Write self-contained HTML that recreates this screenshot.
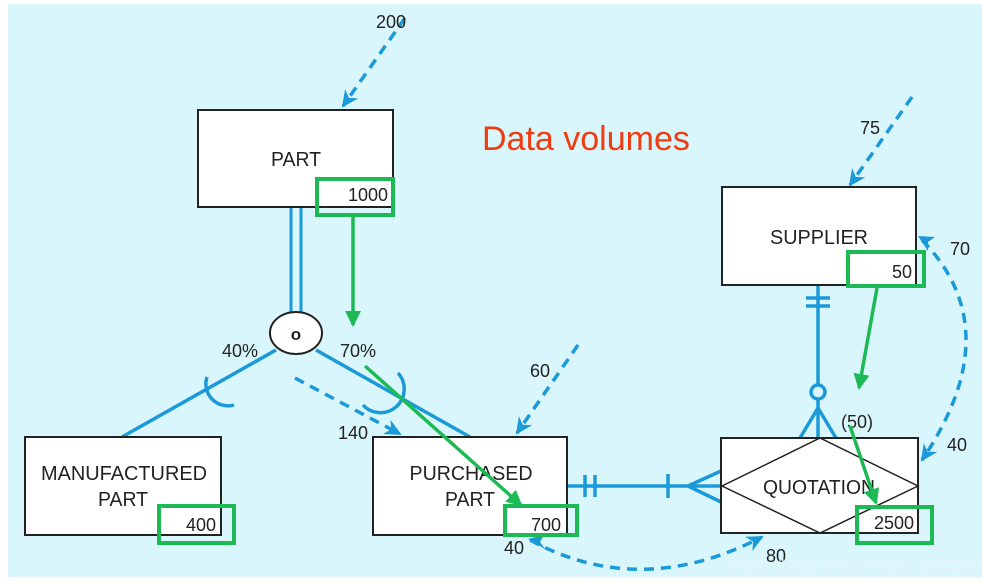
<!DOCTYPE html>
<html><head><style>
body{margin:0;background:#fff;}
svg{display:block;font-family:"Liberation Sans",sans-serif;}
</style></head><body>
<svg width="982" height="583" viewBox="0 0 982 583" xmlns="http://www.w3.org/2000/svg">
<defs>
<marker id="bh" markerWidth="18" markerHeight="16" refX="15" refY="8" orient="auto" markerUnits="userSpaceOnUse"><path d="M0,0 L17,8 L0,16 L5,8 Z" fill="#1a9ad8"/></marker>
<marker id="gh" markerWidth="16" markerHeight="16" refX="14" refY="8" orient="auto" markerUnits="userSpaceOnUse"><path d="M0,0 L16,8 L0,16 Z" fill="#1db954"/></marker>
</defs>
<rect x="8" y="4" width="974" height="573" fill="#d8f6fb"/>
<g fill="none" stroke="#1a9ad8" stroke-width="3.5">
 <line x1="291" y1="207" x2="291" y2="313" stroke-width="3"/>
 <line x1="301" y1="207" x2="301" y2="313" stroke-width="3"/>
 <line x1="276" y1="350" x2="122" y2="437"/>
 <line x1="316" y1="350" x2="470" y2="437"/>
 <path d="M207,377 A22,22 0 0 0 234,405"/>
 <path d="M398,373 A22,22 0 0 1 363,405"/>
 <line x1="567" y1="486" x2="721" y2="486"/>
 <line x1="585" y1="475" x2="585" y2="497"/>
 <line x1="595" y1="475" x2="595" y2="497"/>
 <line x1="668" y1="474" x2="668" y2="498"/>
 <line x1="688" y1="486" x2="721" y2="471"/>
 <line x1="688" y1="486" x2="721" y2="502"/>
 <line x1="818" y1="285" x2="818" y2="438"/>
 <line x1="806" y1="298" x2="830" y2="298"/>
 <line x1="806" y1="306" x2="830" y2="306"/>
 <circle cx="818" cy="392" r="7" fill="#d8f6fb"/>
 <line x1="818" y1="408" x2="800" y2="438"/>
 <line x1="818" y1="408" x2="836" y2="438"/>
</g>
<g fill="none" stroke="#1a9ad8" stroke-width="3.5" stroke-dasharray="10,7">
 <line x1="405" y1="18" x2="343" y2="106" marker-end="url(#bh)"/>
 <line x1="295" y1="378" x2="400" y2="434" marker-end="url(#bh)"/>
 <line x1="578" y1="345" x2="517" y2="433" marker-end="url(#bh)"/>
 <line x1="912" y1="97" x2="850" y2="185" marker-end="url(#bh)"/>
 <path d="M922,240 Q1010,330 922,460" marker-end="url(#bh)"/>
 <path d="M530,540 Q640,600 762,537" marker-end="url(#bh)"/>
</g>
<path d="M918,236 l17,1 l-7,5 l0,9 z" fill="#1a9ad8"/>
<path d="M528,539 l16,-4 l-4,7 l5,7 z" fill="#1a9ad8"/>
<g fill="#fff" stroke="#222" stroke-width="2">
 <rect x="198" y="110" width="195" height="97"/>
 <rect x="25" y="437" width="196" height="98"/>
 <rect x="373" y="437" width="194" height="98"/>
 <rect x="722" y="187" width="194" height="98"/>
 <rect x="721" y="438" width="197" height="95"/>
 <ellipse cx="296" cy="333" rx="26" ry="21"/>
</g>
<path d="M722,486 L820,438 L918,486 L820,533 Z" fill="none" stroke="#222" stroke-width="1.5"/>
<g font-size="20" fill="#222" text-anchor="middle">
 <text x="296" y="166" textLength="50" lengthAdjust="spacingAndGlyphs">PART</text>
 <text x="124" y="480" textLength="166" lengthAdjust="spacingAndGlyphs">MANUFACTURED</text>
 <text x="123" y="506" textLength="50" lengthAdjust="spacingAndGlyphs">PART</text>
 <text x="471" y="480" textLength="123" lengthAdjust="spacingAndGlyphs">PURCHASED</text>
 <text x="470" y="506" textLength="50" lengthAdjust="spacingAndGlyphs">PART</text>
 <text x="819" y="244" textLength="98" lengthAdjust="spacingAndGlyphs">SUPPLIER</text>
 <text x="819" y="494" textLength="112" lengthAdjust="spacingAndGlyphs">QUOTATION</text>
 <text x="296" y="340" font-size="17" font-weight="bold">o</text>
</g>
<g font-size="18" fill="#222" text-anchor="end">
 <text x="388" y="201">1000</text>
 <text x="216" y="531">400</text>
 <text x="561" y="531">700</text>
 <text x="912" y="278">50</text>
 <text x="914" y="529">2500</text>
 <text x="406" y="28">200</text>
 <text x="258" y="357">40%</text>
 <text x="376" y="357">70%</text>
 <text x="368" y="439">140</text>
 <text x="550" y="377">60</text>
 <text x="880" y="134">75</text>
 <text x="970" y="255">70</text>
 <text x="967" y="451">40</text>
 <text x="873" y="428">(50)</text>
 <text x="524" y="554">40</text>
 <text x="786" y="562">80</text>
</g>
<text x="482" y="150" font-size="34" fill="#f03c10">Data volumes</text>
<g fill="none" stroke="#1db954" stroke-width="4">
 <rect x="317" y="179" width="76" height="36"/>
 <rect x="159" y="506" width="75" height="37"/>
 <rect x="505" y="506" width="72" height="29"/>
 <rect x="848" y="252" width="76" height="34"/>
 <rect x="857" y="507" width="75" height="36"/>
</g>
<g stroke="#1db954" stroke-width="3.5">
 <line x1="353" y1="215" x2="353" y2="325" marker-end="url(#gh)"/>
 <line x1="365" y1="366" x2="521" y2="505" marker-end="url(#gh)"/>
 <line x1="877" y1="288" x2="859" y2="388" marker-end="url(#gh)"/>
 <line x1="850" y1="426" x2="876" y2="503" marker-end="url(#gh)"/>
</g>
<text x="730" y="571" font-size="17" fill="#e8f4f8" opacity="0.85">https://blog.csdn.net/qq_42902997</text>
</svg>
</body></html>
